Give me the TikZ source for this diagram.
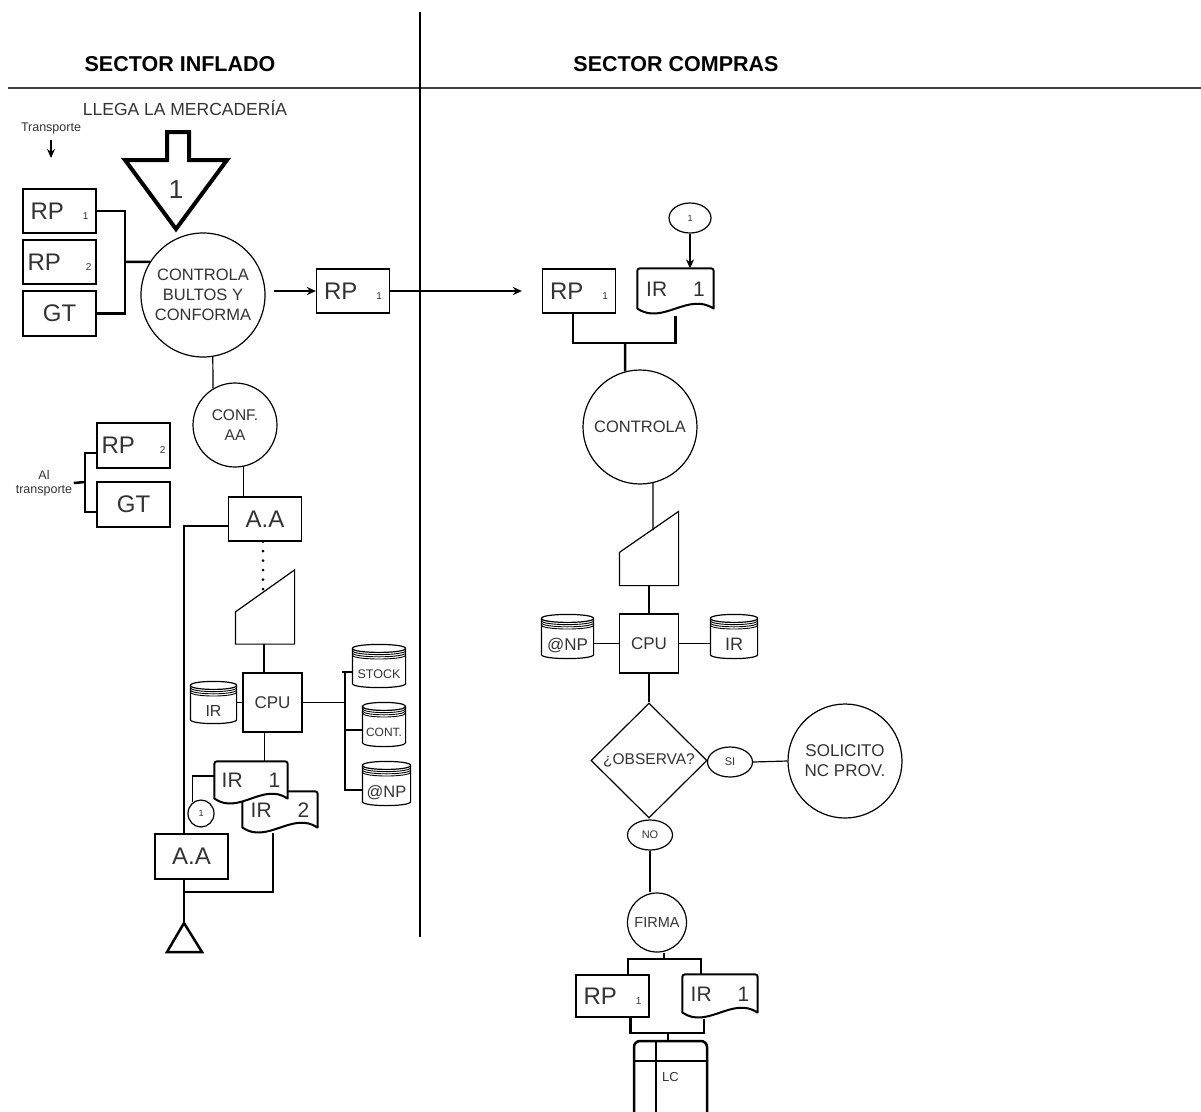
\documentclass[tikz,border=0pt]{standalone}
\usepackage{fontspec}
\setmainfont{Liberation Sans}
\usetikzlibrary{arrows.meta, calc, shapes.geometric, backgrounds}

\newcommand{\fsz}[2]{\fontsize{#1}{#2}\selectfont}
\newcommand{\rplabel}[2][19pt]{{\fsz{24}{24}RP}\hspace{#1}{\fsz{10}{10}#2}}
\newcommand{\irlabel}[1]{\raisebox{2pt}[0pt][0pt]{\raisebox{-.5\height}{\fsz{21}{21}IR\hspace{26pt}#1}}}
\newcommand{\dblabel}[2]{\raisebox{-8pt}[0pt][0pt]{\raisebox{-.5\height}{\fsz{#1}{#1}#2}}}

% document outline (wavy bottom), drawn behind the node text
\newcommand{\docline}[1]{%
  \begin{scope}[on background layer]
  \draw[docdraw] ([yshift=5pt]#1.south west) -- ([yshift=-5pt]#1.north west)
    .. controls (#1.north west) .. ([xshift=5pt]#1.north west)
    -- ([xshift=-5pt]#1.north east)
    .. controls (#1.north east) .. ([yshift=-5pt]#1.north east)
    -- ([yshift=5pt]#1.south east)
    .. controls ([yshift=22pt]$(#1.south west)!0.667!(#1.south east)$)
       and ([yshift=-12pt]$(#1.south west)!0.333!(#1.south east)$)
    .. ([yshift=5pt]#1.south west) -- cycle;
  \end{scope}}

% disk storage outline
\newcommand{\dbline}[1]{%
  \draw ([yshift=-4pt]#1.north west) -- ([yshift=4pt]#1.south west)
    .. controls ([yshift=-1.33pt]#1.south west) and ([yshift=-1.33pt]#1.south east) .. ([yshift=4pt]#1.south east)
    -- ([yshift=-4pt]#1.north east)
    .. controls ([yshift=1.33pt]#1.north east) and ([yshift=1.33pt]#1.north west) .. ([yshift=-4pt]#1.north west)
    .. controls ([yshift=-9.33pt]#1.north west) and ([yshift=-9.33pt]#1.north east) .. ([yshift=-4pt]#1.north east);
  \foreach \s in {2.2,4.4,6.6}
    \draw[line width=0.9pt] ([yshift={-4pt-\s*1pt}]#1.north west)
      .. controls ([yshift={-9.33pt-\s*1pt}]#1.north west) and ([yshift={-9.33pt-\s*1pt}]#1.north east)
      .. ([yshift={-4pt-\s*1pt}]#1.north east);}

% manual input outline
\newcommand{\mioutline}[2]{%
  \draw (#1.south west) -- ([yshift=-#2]#1.north west) -- (#1.north east) -- (#1.south east) -- cycle;}

\begin{document}
\begin{tikzpicture}[
    x=1pt, y=-1pt, line width=1.2pt,
    every node/.style={text=black!80},
    hdr/.style={font=\bfseries\fsz{21.5}{24}, text=black},
    procbox/.style={circle, draw, inner sep=0pt, align=center},
    docbox/.style={rectangle, draw, minimum width=73, minimum height=44, inner sep=0pt},
    irdoc/.style={rectangle, minimum width=74, minimum height=42, inner sep=0pt},
    docdraw/.style={line width=2pt, fill=white, line join=round},
    dbbox/.style={rectangle, minimum height=43, inner sep=0pt},
    manual/.style={rectangle, minimum width=58, minimum height=73, inner sep=0pt},
    cpubox/.style={rectangle, draw, minimum size=59, inner sep=0pt, font=\fsz{17}{20}},
    conn/.style={ellipse, draw, inner sep=0pt},
    lcbox/.style={rectangle, draw, rounded corners=6pt, line width=2.5pt,
      minimum width=73, minimum height=84, inner sep=0pt, font=\fsz{13}{14}},
    arrow/.style={-{Stealth[length=9pt, width=8pt]}},
    bus/.style={line width=2.5pt},
    dotline/.style={line width=3pt, dash pattern=on 0pt off 9.5pt, line cap=round}
  ]
    \clip (0,0) rectangle (1201,1111);

    % Headers and lanes
    \node[hdr] (hdrinf) at (180,64) {SECTOR INFLADO};
    \node[hdr] (hdrcom) at (676,64) {SECTOR COMPRAS};
    \coordinate (rulel) at (8,88);
    \coordinate (ruler) at (1201,88);
    \draw[line width=2pt, black!75] (rulel) -- (ruler);
    \coordinate (divtop) at (420,12);
    \coordinate (divbot) at (420,937);
    \draw (divtop) -- (divbot);

    % Arrival
    \node[font=\fsz{17.5}{20}] (llega) at (185,108) {LLEGA LA MERCADERÍA};
    \node[font=\fsz{12.5}{14}] (transp) at (51,128) {Transporte};
    \coordinate (transpend) at (51,158);
    \draw[arrow] ([yshift=-2pt]transp.south) -- (transpend);

    \node[docbox] (rp1a) at (59.5,211) {\rplabel{1}};
    \node[docbox] (rp2a) at (59.5,262) {\rplabel[25pt]{2}};
    \node[docbox, minimum height=45] (gta) at (59.5,313.5) {\fsz{24}{24}GT};

    \node[font=\fsz{26}{26}] (bigone) at (176,190) {1};
    \draw[line width=4pt, line join=miter] (167,132) -- (189,132) -- (189,160) -- (227,160)
      -- (176,229) -- (125,160) -- (167,160) -- cycle;

    \node[procbox, minimum size=124, font=\fsz{16.5}{20}]
      (controla) at (203,295) {CONTROLA\\BULTOS Y\\CONFORMA};
    \coordinate (brk1) at (125,262);
    \draw[bus] (rp1a.east) -| (brk1) |- (gta.east);
    \draw[bus] (brk1) -- (controla.148);

    % Copy to compras
    \node[docbox] (rp1b) at (353,291) {\rplabel{1}};
    \draw[arrow] ([xshift=8pt]controla.east |- rp1b.west) -- (rp1b.west);
    \node[docbox] (rp1c) at (579,291) {\rplabel{1}};
    \draw[arrow] (rp1b.east) -- ([xshift=-20pt]rp1c.west);

    % Sector compras
    \node[irdoc, minimum width=75, minimum height=44] (ir1c) at (675.5,291) {\irlabel{1}};
    \docline{ir1c}
    \node[conn, minimum width=42, minimum height=30, font=\fsz{9}{10}] (con1c) at (690,218) {1};
    \draw[arrow] (con1c.south) -- (con1c.south |- ir1c.north);
    \coordinate (brk2) at (625,343);
    \draw[bus] ([xshift=-6pt]rp1c.south) |- (brk2) -| ([yshift=-2pt]ir1c.south);
    \node[procbox, minimum size=114, font=\fsz{16.5}{20}] (controlb) at (640,427) {CONTROLA};
    \draw[bus] (brk2) -- (controlb.105);

    \node[manual] (mi2) at (649,548.5) {};
    \mioutline{mi2}{41pt}
    \coordinate (mi2slope) at (653,530);
    \draw (controlb.-77) -- (mi2slope);

    \node[cpubox] (cpu2) at (649,643.5) {CPU};
    \draw (mi2.south) -- (cpu2.north);
    \node[dbbox, minimum width=51] (npdb2) at (567.5,636.5) {\dblabel{17}{@NP}};
    \dbline{npdb2}
    \node[dbbox, minimum width=46] (irdb2) at (734,636.5) {\dblabel{18}{IR}};
    \dbline{irdb2}
    \draw (cpu2.west) -- (cpu2.west -| npdb2.east);
    \draw (cpu2.east) -- (cpu2.east -| irdb2.west);

    \node[diamond, draw, minimum width=116, minimum height=115, inner sep=0pt,
      font=\fsz{15.5}{18}] (obs) at (649,760.5) {¿OBSERVA?};
    \draw (cpu2.south) -- (obs.north);
    \node[conn, minimum width=45, minimum height=30, font=\fsz{11}{12}] (si) at (730,762) {SI};
    \node[procbox, minimum size=114, font=\fsz{17}{20}] (solic) at (845,761) {SOLICITO\\NC PROV.};
    \draw (si.east) -- (solic.west);
    \node[conn, minimum width=45, minimum height=30, font=\fsz{11}{12}] (no) at (650,835) {NO};
    \node[procbox, minimum size=59, font=\fsz{14.5}{16}] (firma) at (657,922.5) {FIRMA};
    \draw (no.south) -- (no.south |- firma.north);

    \coordinate (brk3) at (664,959);
    \node[docbox, minimum height=42] (rp1d) at (612.5,996) {\rplabel{1}};
    \node[irdoc] (ir1d) at (720,996) {\irlabel{1}};
    \docline{ir1d}
    \draw[bus] (firma.south -| brk3) -- (brk3);
    \draw[bus] ([xshift=15.5pt]rp1d.north) |- (brk3) -| ([xshift=-19pt]ir1d.north);
    \coordinate (brk4) at (668,1033);
    \draw[bus] ([xshift=18pt]rp1d.south) |- (brk4) -| ([xshift=-16pt,yshift=-1pt]ir1d.south);
    \node[lcbox] (lc) at (670.5,1083) {\raisebox{6pt}[0pt][0pt]{\raisebox{-.5\height}{LC}}};
    \draw[bus] (brk4) -- (brk4 |- lc.north);
    \draw[bus] ([yshift=-21pt]lc.north west) -- ([yshift=-21pt]lc.north east);
    \draw[bus] ([xshift=23pt]lc.north west) -- ([xshift=23pt]lc.south west);

    % Sector inflado, lower part
    \node[procbox, minimum size=84, font=\fsz{15.5}{20}] (confaa) at (235,425) {CONF.\\AA};
    \draw (controla.-81) -- (confaa.121);
    \node[docbox] (aa1) at (265,519) {\fsz{24}{24}A.A};
    \draw (confaa.-79) -- (confaa.-79 |- aa1.north);
    \node[manual] (mi1) at (265,607) {};
    \mioutline{mi1}{42pt}
    \coordinate (mi1slope) at (263,593);
    \draw[dotline] ([xshift=-2pt]aa1.south) -- (mi1slope);

    \node[cpubox] (cpu1) at (272.5,702.5) {CPU};
    \draw ([xshift=-1pt]mi1.south) -- ([xshift=-1pt]mi1.south |- cpu1.north);
    \node[dbbox, minimum width=45, minimum height=41] (irdb1) at (213.5,702.5) {\dblabel{16}{IR}};
    \dbline{irdb1}
    \draw (irdb1.east) -- (cpu1.west);

    \coordinate (bustop) at (345,672);
    \node[dbbox, minimum width=52, minimum height=42] (stockdb) at (379,666) {\dblabel{12.5}{STOCK}};
    \dbline{stockdb}
    \node[dbbox, minimum width=42] (contdb) at (384,724.5) {\dblabel{12}{CONT.}};
    \dbline{contdb}
    \node[dbbox, minimum width=47] (npdb1) at (386.5,783.5) {\dblabel{16.5}{@NP}};
    \dbline{npdb1}
    \draw (cpu1.east) -- (cpu1.east -| bustop);
    \draw (bustop) |- ([yshift=-6.5pt]npdb1.west);
    \draw ([xshift=-3pt]bustop) -- (bustop -| stockdb.west);
    \draw ([yshift=-5.5pt]contdb.west) -- ([yshift=-5.5pt]contdb.west -| bustop);

    \node[irdoc, minimum height=40] (ir2a) at (280,812) {\irlabel{2}};
    \docline{ir2a}
    \node[irdoc, minimum width=72, minimum height=41] (ir1a) at (251,782.5) {\irlabel{1}};
    \docline{ir1a}
    \draw ([xshift=-8pt]cpu1.south) -- ([xshift=-8pt]cpu1.south |- ir1a.north);
    \node[conn, minimum width=26, minimum height=27, font=\fsz{9}{10}] (con1a) at (201,813.5) {1};
    \draw ([yshift=6.5pt]ir1a.west) -| (con1a.127);

    \node[docbox, minimum height=45] (aa2) at (191.5,856.5) {\fsz{24}{24}A.A};
    \draw ([yshift=-7pt]aa1.west) -| ([xshift=-7.5pt]aa2.north);
    \coordinate (archive) at (184,923);
    \coordinate (join1) at (184,892);
    \draw ([xshift=-7.5pt]aa2.south) -- (archive);
    \draw ([xshift=-7pt]ir2a.south) |- (join1);
    \draw[bus, line join=miter] (archive) -- ++(18,29) -- ++(-35,0) -- cycle;

    % Back to transport
    \node[docbox, minimum height=45] (rp2b) at (133.5,445.5) {\rplabel[25pt]{2}};
    \node[docbox, minimum height=45] (gtb) at (133.5,504.5) {\fsz{24}{24}GT};
    \node[font=\fsz{12.5}{14}, align=center, inner sep=1pt] (altransp) at (44,483) {Al\\transporte};
    \coordinate (brk5) at (85,482);
    \draw[bus] ([yshift=-7.5pt]rp2b.west) -| (brk5) |- ([yshift=-7.5pt]gtb.west);
    \draw[bus] (altransp.east) -- (brk5);
  \end{tikzpicture}
\end{document}
